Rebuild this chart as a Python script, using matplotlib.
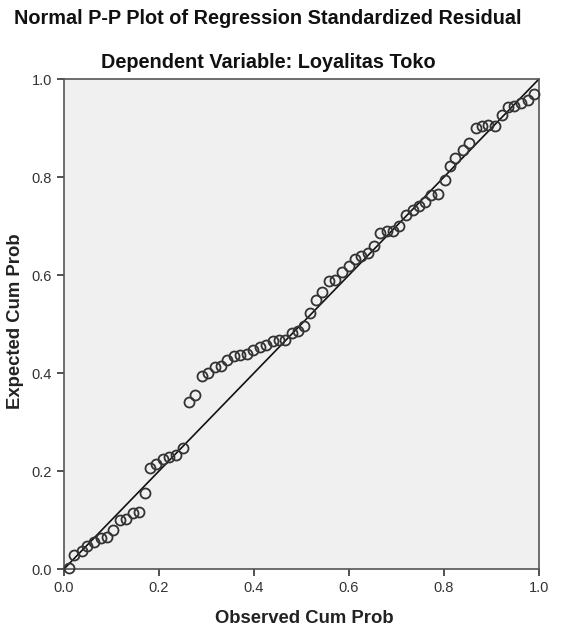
import matplotlib
matplotlib.use("Agg")
import matplotlib.pyplot as plt

plt.rcParams["font.family"] = ["Liberation Sans", "DejaVu Sans"]

TITLE = "Normal P-P Plot of Regression Standardized Residual"
SUBTITLE = "Dependent Variable: Loyalitas Toko"
X_LABEL = "Observed Cum Prob"
Y_LABEL = "Expected Cum Prob"
TICKS = [0.0, 0.2, 0.4, 0.6, 0.8, 1.0]
TICK_LABELS = ["0.0", "0.2", "0.4", "0.6", "0.8", "1.0"]

# observed vs expected cumulative probability
observed = [
    0.011, 0.021, 0.037, 0.049, 0.064, 0.077, 0.090, 0.104, 0.118, 0.131,
    0.145, 0.157, 0.170, 0.180, 0.194, 0.208, 0.221, 0.236, 0.250, 0.263,
    0.276, 0.290, 0.304, 0.318, 0.330, 0.344, 0.358, 0.371, 0.385, 0.398,
    0.412, 0.426, 0.440, 0.453, 0.465, 0.479, 0.493, 0.505, 0.517, 0.531,
    0.544, 0.558, 0.571, 0.585, 0.599, 0.612, 0.625, 0.639, 0.653, 0.665,
    0.679, 0.693, 0.706, 0.720, 0.734, 0.747, 0.760, 0.773, 0.787, 0.802,
    0.812, 0.824, 0.839, 0.853, 0.867, 0.881, 0.893, 0.908, 0.922, 0.934,
    0.948, 0.962, 0.976, 0.989,
]
expected = [
    0.003, 0.029, 0.037, 0.047, 0.056, 0.063, 0.066, 0.080, 0.100, 0.103,
    0.115, 0.117, 0.156, 0.206, 0.214, 0.225, 0.228, 0.233, 0.247, 0.341,
    0.356, 0.393, 0.400, 0.412, 0.414, 0.427, 0.434, 0.437, 0.439, 0.446,
    0.454, 0.458, 0.466, 0.468, 0.468, 0.482, 0.486, 0.495, 0.522, 0.550,
    0.565, 0.588, 0.590, 0.607, 0.618, 0.633, 0.638, 0.645, 0.659, 0.686,
    0.690, 0.690, 0.701, 0.723, 0.733, 0.740, 0.748, 0.764, 0.765, 0.793,
    0.822, 0.838, 0.855, 0.869, 0.900, 0.905, 0.906, 0.905, 0.926, 0.943,
    0.944, 0.951, 0.958, 0.970,
]

fig = plt.figure(figsize=(5.85, 6.27), dpi=100)
ax = fig.add_axes([0.1094, 0.0925, 0.812, 0.7815])
ax.set_facecolor("#f0f0f0")

ax.plot([0, 1], [0, 1], color="#111111", linewidth=1.2, zorder=2)
ax.plot(observed, expected, linestyle="none", marker="o", markersize=7.2,
        markerfacecolor="none", markeredgecolor="#333333",
        markeredgewidth=1.3, zorder=3, clip_on=False)

ax.set_xlim(0, 1)
ax.set_ylim(0, 1)
ax.set_xticks(TICKS)
ax.set_xticklabels(TICK_LABELS)
ax.set_yticks(TICKS)
ax.set_yticklabels(TICK_LABELS)
ax.tick_params(direction="out", length=5, width=1.2, colors="#333333",
               labelsize=10.5, labelcolor="#333333")
for s in ax.spines.values():
    s.set_color("#555555")
    s.set_linewidth(1.2)

fig.text(0.52, 0.013, X_LABEL, ha="center", va="center", fontsize=13.3,
         fontweight="bold", color="#222222")
fig.text(0.026, 0.487, Y_LABEL, ha="center", va="center", rotation=90,
         fontsize=13.3, fontweight="bold", color="#222222")
fig.text(0.458, 0.971, TITLE, ha="center", va="center", fontsize=14.3,
         fontweight="bold", color="#111111")
fig.text(0.458, 0.901, SUBTITLE, ha="center", va="center", fontsize=14.3,
         fontweight="bold", color="#111111")

fig.savefig("out.png", dpi=100, facecolor="white")
